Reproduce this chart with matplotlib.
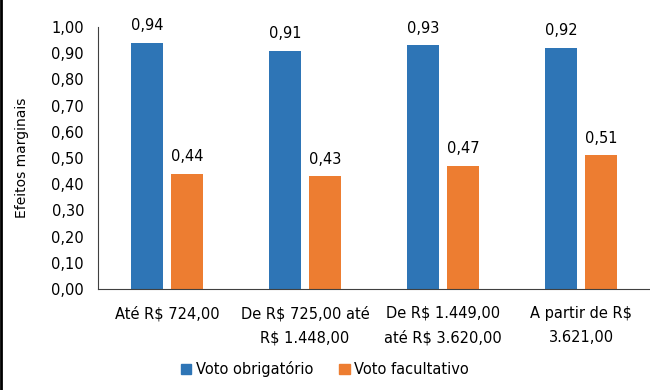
import matplotlib
matplotlib.use("Agg")
import matplotlib.pyplot as plt
import numpy as np
from matplotlib.lines import Line2D

categories = ["Até R$ 724,00", "De R$ 725,00 até\nR$ 1.448,00",
              "De R$ 1.449,00\naté R$ 3.620,00", "A partir de R$\n3.621,00"]
obrigatorio = [0.94, 0.91, 0.93, 0.92]
facultativo = [0.44, 0.43, 0.47, 0.51]
series_names = ["Voto obrigatório", "Voto facultativo"]
colors = ["#2E75B6", "#ED7D31"]

plt.rcParams['font.family'] = ['DejaVu Sans']
fig = plt.figure(figsize=(6.5, 3.9), dpi=100)
ax = fig.add_axes([98/650, 1 - 289/390, 552/650, 262/390])

x = np.arange(len(categories))
w = 0.232
off = 0.145
b1 = ax.bar(x - off, obrigatorio, w, color=colors[0], label=series_names[0])
b2 = ax.bar(x + off, facultativo, w, color=colors[1], label=series_names[1])

def fmt(v):
    return f"{v:.2f}".replace(".", ",")

for bars, vals in ((b1, obrigatorio), (b2, facultativo)):
    for b, v in zip(bars, vals):
        ax.annotate(fmt(v), (b.get_x() + b.get_width() / 2, v), xytext=(0, 7),
                    textcoords="offset points", ha="center", va="bottom", fontsize=10.5)

ax.set_xlim(-0.5, len(categories) - 0.5)
ax.set_ylim(0, 1.0)
yt = np.round(np.arange(0, 1.01, 0.1), 2)
ax.set_yticks(yt)
ax.set_yticklabels([fmt(v) for v in yt], fontsize=10.5)
ax.set_xticks(x)
ax.set_xticklabels(categories, fontsize=10.5, linespacing=1.75)
ax.tick_params(axis="x", length=0, pad=12)
ax.tick_params(axis="y", length=0, pad=10)
for s in ("top", "right"):
    ax.spines[s].set_visible(False)
ax.spines["left"].set_color("#404040")
ax.spines["bottom"].set_color("#404040")
ax.set_ylabel("Efeitos marginais", fontsize=10)
ax.yaxis.set_label_coords(-0.125, 0.5)

handles = [plt.Rectangle((0, 0), 1, 1, color=c) for c in colors]
fig.legend(handles, series_names, loc="center", bbox_to_anchor=(0.5, 1 - 369/390),
           ncol=2, frameon=False, fontsize=10.5, handlelength=0.7, handleheight=0.7,
           handletextpad=0.3, columnspacing=1.8)

fig.add_artist(Line2D([0.002, 0.002], [0, 1], transform=fig.transFigure, color="black", lw=2))

fig.savefig("out.png", dpi=100)
